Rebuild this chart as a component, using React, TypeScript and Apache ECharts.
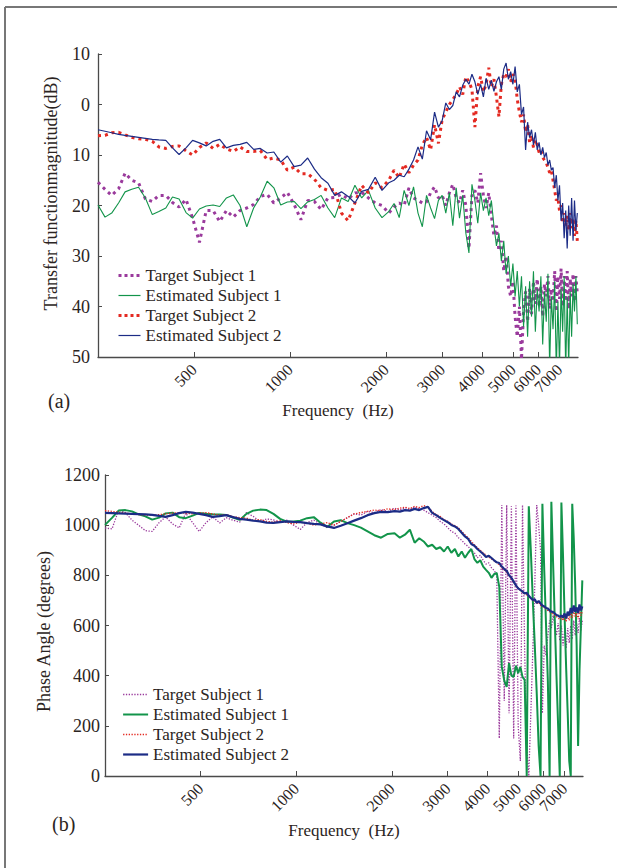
import React, { useEffect, useRef } from "react";
import * as echarts from "echarts";

// Frequency grid (Hz), shared by both panels
const freqHz = [
  250, 263, 276, 290, 304, 319, 335, 352, 370, 388, 408, 428, 449, 472, 495, 520, 546, 574, 602, 632,
  664, 697, 732, 769, 807, 848, 890, 935, 981, 1030, 1082, 1136, 1193, 1252, 1315, 1381, 1450, 1522, 1598, 1678,
  1762, 1850, 1943,
  2040, 2120, 2200, 2280, 2360, 2440, 2520, 2600, 2680, 2760, 2840, 2920, 3000, 3080, 3160, 3240, 3320, 3400, 3480,
  3560, 3640, 3720, 3800, 3880, 3960, 4040, 4120, 4200, 4280, 4360, 4440, 4520, 4600, 4680, 4760, 4840, 4920, 5000,
  5080, 5160, 5240, 5320, 5400, 5480, 5560, 5640, 5720, 5800, 5880, 5960, 6040, 6120, 6200, 6280, 6360, 6440, 6520,
  6600, 6680, 6760, 6840, 6920, 7000, 7080, 7160, 7240, 7320, 7400, 7480, 7560, 7640, 7720, 7800, 7880, 7960,
];

const xTickHz = [500, 1000, 2000, 3000, 4000, 5000, 6000, 7000];
// labels drawn on the main axis / on an overlay axis (so that crowded labels are not auto-hidden)
const xLabelHzMain = [500, 1000, 2000, 3000, 4000, 5000, 7000];
const xLabelHzExtra = [6000];
const seriesNames = ["Target Subject 1", "Estimated Subject 1", "Target Subject 2", "Estimated Subject 2"];

// (a) Transfer function magnitude (dB), axis drawn inverted
const magTarget1 = [
  15.4, 16.8, 18.0, 16.7, 13.6, 15.0, 15.5, 18.7, 19.2, 18.0,
  18.0, 19.4, 20.3, 18.8, 22.5, 27.3, 21.0, 21.0, 23.2, 21.0,
  22.3, 21.0, 20.5, 19.8, 18.2, 17.8, 19.5, 18.5, 17.4, 19.8,
  22.8, 19.0, 19.2, 20.8, 18.5, 18.4, 17.8, 18.7, 17.5, 17.4,
  18.5, 19.5, 20.0, 21.5, 20.3, 19.5, 20.0, 16.5, 18.5, 19.0,
  19.5, 19.3, 17.5, 16.3, 18.5, 18.0, 20.0, 17.5, 15.8, 18.5,
  19.5, 17.0, 20.0, 28.5, 18.0, 17.0, 19.5, 13.6, 18.0, 20.5,
  17.5, 22.0, 26.0, 24.0, 29.0, 27.0, 33.0, 30.0, 36.0, 38.0,
  35.0, 42.0, 46.0, 40.0, 50.5, 41.0, 37.0, 43.0, 36.5, 41.5,
  35.0, 39.5, 34.5, 40.0, 36.0, 42.0, 35.5, 38.0, 34.0, 40.5,
  36.5, 39.0, 33.0, 41.0, 34.0, 38.5, 32.5, 40.0, 34.0, 39.0,
  33.0, 40.5, 34.5, 38.0, 33.5, 39.0, 34.0, 37.5,
];
const magEstimated1 = [
  19.9, 22.3, 21.5, 19.5, 17.3, 16.8, 16.4, 18.5, 21.8, 21.2,
  20.5, 18.3, 18.7, 21.4, 22.5, 20.7, 20.1, 19.9, 20.2, 18.5,
  17.9, 20.0, 24.2, 20.5, 18.3, 15.2, 16.5, 19.9, 19.3, 19.2,
  20.6, 19.3, 18.8, 18.0, 20.5, 22.4, 18.5, 19.2, 16.0, 18.5,
  17.0, 20.5, 22.4, 21.2, 19.6, 22.4, 17.0, 20.0, 16.3, 21.5,
  24.2, 18.0, 20.5, 22.6, 19.0, 18.0, 21.5, 17.5, 24.0, 16.5,
  22.5, 18.0, 25.5, 29.4, 15.8, 19.0, 23.5, 17.5, 21.0, 18.5,
  22.0, 19.0, 24.0, 28.0, 25.5, 31.0, 27.0, 33.5, 30.0, 36.0,
  31.5, 38.0, 33.0, 40.0, 34.0, 44.0, 36.0, 46.0, 35.0, 42.0,
  33.0, 45.0, 36.5, 41.0, 34.0, 47.5, 37.0, 43.0, 33.5, 52.0,
  38.0, 44.5, 35.0, 53.0, 39.0, 52.0, 36.5, 45.0, 34.0, 53.0,
  38.0, 52.0, 37.0, 46.0, 35.5, 41.0, 34.0, 43.5,
];
const magTarget2 = [
  6.2, 6.1, 5.6, 5.5, 6.0, 6.5, 6.8, 6.9, 7.3, 8.4,
  8.7, 8.3, 8.2, 9.2, 10.0, 8.5, 7.6, 8.7, 7.9, 8.8,
  9.3, 8.4, 9.3, 9.3, 9.1, 10.9, 10.6, 11.0, 13.0, 12.4,
  13.7, 13.7, 14.8, 16.5, 17.0, 16.8, 21.5, 23.0, 19.5, 16.0,
  17.5, 15.5, 16.5, 15.0, 13.0, 14.5, 11.8, 13.5, 12.0, 11.0,
  8.0, 6.5, 9.0, 4.0, 7.7, 3.0, 1.5, 0.0, -1.0, -2.0,
  -3.5, -2.0, -5.5, -4.5, -3.0, 4.5, -3.5, -5.5, -2.5, -4.0,
  -7.3, -3.5, -5.0, -1.5, 2.4, -4.0, -6.0, -5.5, -7.0, -4.5,
  -6.0, -5.0, -1.0, 1.5, 3.5, 2.0, 5.5, 4.0, 7.5, 6.0,
  8.5, 7.0, 8.0, 9.5, 9.0, 10.5, 11.0, 11.5, 12.5, 13.5,
  13.0, 15.0, 17.0, 19.0, 18.5, 21.0, 20.0, 23.5, 21.5, 24.0,
  22.0, 25.0, 21.5, 24.5, 22.5, 26.0, 23.0, 27.0,
];
const magEstimated2 = [
  5.0, 5.3, 5.6, 5.9, 6.1, 6.3, 6.5, 6.7, 6.9, 7.0,
  7.1, 8.6, 9.9, 8.6, 7.1, 7.6, 8.2, 7.3, 6.9, 8.6,
  8.1, 7.9, 7.5, 8.9, 8.7, 9.6, 9.4, 11.4, 10.2, 12.3,
  12.0, 10.6, 12.8, 14.5, 15.6, 18.0, 17.3, 18.2, 19.5, 17.2,
  16.8, 14.4, 17.0, 15.5, 15.0, 14.0, 14.3, 12.8, 11.0, 8.4,
  10.8, 5.2, 7.0, 1.5, 4.5, 3.2, -0.3, 1.0, 0.2, -2.5,
  -1.5, -3.8, -5.0, -4.0, -6.0, -4.5, -2.0, -4.0, -1.5, -5.2,
  -3.0, -4.8, -2.6, -4.5, -5.5, -3.0, -7.0, -8.2, -5.0, -6.5,
  -4.0, -7.5, -2.5, -4.0, 2.0, 0.5, 9.0, 3.5, 6.5, 5.0,
  8.0, 5.5, 9.0, 7.5, 10.0, 8.5, 10.5, 9.5, 12.0, 11.0,
  13.0, 12.5, 16.5, 14.0, 19.0, 16.0, 23.0, 19.5, 26.5, 21.0,
  28.5, 20.0, 26.0, 18.5, 27.0, 19.0, 25.0, 21.5,
];

// (b) Phase angle (degrees)
const phaseTarget1 = [
  989, 985, 1060, 1050, 1020, 1000, 978, 975, 1010, 1033,
  1005, 989, 1048, 1010, 975, 1010, 1033, 1009, 1030, 1020,
  1012, 1050, 1035, 1015, 1025, 1021, 1010, 1020, 1000, 983,
  1010, 1020, 1005, 990, 1000, 1015, 1030, 1045, 1040, 1055,
  1050, 1062, 1055, 1068, 1060, 1070, 1062, 1072, 1066, 1060,
  1050, 1040, 1030, 1015, 1005, 990, 975, 968, 950, 940,
  925, 915, 900, 890, 870, 880, 860, 845, 850, 830,
  820, 800, 150, 1080, 300, 1080, 250, 1075, 150, 1078,
  200, 60, 1080, 500, 120, 0, 250, 500, 760, 1080,
  1000, 900, 250, 520, 480, 560, 620, 590, 640, 600,
  560, 610, 540, 600, 520, 580, 510, 590, 530, 600,
  545, 620, 560, 610, 570, 630, 580, 620,
];
const phaseEstimated1 = [
  1001, 1029, 1058, 1060, 1055, 1043, 1035, 1022, 1030, 1047,
  1050, 1032, 1028, 1038, 1049, 1046, 1044, 1043, 1041, 1030,
  1021, 1045, 1058, 1062, 1060, 1045, 1025, 1014, 1015, 1018,
  1028, 1032, 1010, 993, 1015, 1020, 1008, 1000, 990, 975,
  960, 950, 965, 968, 950, 962, 982, 930, 948, 935,
  915, 922, 905, 912, 895, 915, 890, 905, 875, 895,
  870, 890, 905, 865, 850, 860, 835, 822, 810, 790,
  805, 810, 754, 435, 380, 355, 450, 400, 395, 440,
  410, 435, 395, 383, 0, 1075, 900, 700, 520, 330,
  120, 0, 1085, 820, 600, 380, 0, 1093, 850, 620,
  400, 200, 0, 1090, 880, 640, 430, 250, 60, 0,
  1085, 950, 760, 520, 120, 420, 600, 780,
];
const phaseTarget2 = [
  1058, 1055, 1052, 1048, 1045, 1042, 1040, 1040, 1042, 1045,
  1048, 1050, 1048, 1045, 1048, 1050, 1045, 1040, 1042, 1035,
  1030, 1028, 1020, 1022, 1015, 1012, 1018, 1010, 1005, 1012,
  1008, 1000, 1005, 1010, 1000, 1015, 1030, 1045, 1050, 1055,
  1060, 1058, 1065, 1062, 1068, 1072, 1066, 1075, 1070, 1078,
  1072, 1055, 1042, 1035, 1022, 1015, 1005, 998, 990, 975,
  962, 950, 935, 922, 910, 900, 890, 880, 872, 865,
  858, 850, 842, 830, 822, 812, 798, 785, 772, 758,
  750, 740, 732, 726, 722, 715, 708, 700, 698, 688,
  692, 680, 676, 672, 665, 660, 655, 650, 645, 640,
  636, 630, 625, 632, 620, 640, 615, 645, 620, 655,
  630, 660, 635, 650, 625, 660, 640, 655,
];
const phaseEstimated2 = [
  1049, 1048, 1047, 1046, 1045, 1044, 1043, 1041, 1037, 1033,
  1040, 1048, 1053, 1050, 1045, 1040, 1033, 1036, 1040, 1032,
  1025, 1022, 1018, 1015, 1010, 1009, 1012, 1015, 1013, 1012,
  1008, 1005, 1003, 995, 989, 998, 1008, 1018, 1028, 1040,
  1048, 1053, 1052, 1056, 1054, 1060, 1058, 1065, 1060, 1068,
  1073, 1049, 1040, 1029, 1020, 1012, 1001, 995, 985, 970,
  955, 945, 925, 918, 905, 895, 885, 873, 878, 869,
  860, 852, 849, 835, 825, 818, 800, 790, 775, 760,
  748, 742, 735, 728, 730, 718, 710, 702, 705, 690,
  698, 688, 680, 676, 670, 668, 660, 655, 654, 648,
  642, 640, 634, 640, 632, 648, 628, 655, 640, 670,
  650, 680, 655, 672, 650, 684, 660, 676,
];

const FONT = "'Liberation Serif', 'Times New Roman', serif";
const TEXT = "#2b2422";
const AXIS = "#4a4a4a";
const PURPLE = "#9a3a9c";
const GREEN = "#12944a";
const RED = "#e42a22";
const NAVY = "#1c2c86";

const toPoints = (values: number[]) => freqHz.map((f, i) => [Math.log10(f), values[i]]);

export default function App() {
  const ref = useRef<HTMLDivElement>(null);

  useEffect(() => {
    const chart = echarts.init(ref.current as HTMLDivElement, null, { renderer: "svg" });
    const lg = (arr: number[]) => arr.map((v) => Math.log10(v));

    const labelStyle = {
      rotate: 45,
      margin: 10,
      hideOverlap: false,
      showMinLabel: true,
      showMaxLabel: true,
      fontFamily: FONT,
      fontSize: 16,
      color: TEXT,
      formatter: (v: number) => String(Math.round(Math.pow(10, v))),
    };

    const xAxis = (gridIndex: number, nameGap: number) => ({
      type: "value",
      gridIndex,
      min: Math.log10(250),
      max: Math.log10(8000),
      axisLine: { show: true, onZero: false, lineStyle: { color: AXIS, width: 1.3 } },
      axisTick: { show: true, inside: true, length: 5, customValues: lg(xTickHz), lineStyle: { color: AXIS } },
      axisLabel: { ...labelStyle, customValues: lg(xLabelHzMain) },
      splitLine: { show: false },
      name: "Frequency  (Hz)",
      nameLocation: "middle",
      nameGap,
      nameTextStyle: { fontFamily: FONT, fontSize: 17, color: TEXT },
    });

    const xAxisExtra = (gridIndex: number) => ({
      type: "value",
      gridIndex,
      position: "bottom",
      min: Math.log10(250),
      max: Math.log10(8000),
      axisLine: { show: false, onZero: false },
      axisTick: { show: false },
      axisLabel: { ...labelStyle, customValues: lg(xLabelHzExtra) },
      splitLine: { show: false },
    });

    const lineSeries = (
      name: string,
      idx: number,
      values: number[],
      color: string,
      width: number,
      type: any
    ) => ({
      type: "line",
      name,
      xAxisIndex: idx,
      yAxisIndex: idx,
      data: toPoints(values),
      symbol: "none",
      clip: true,
      lineStyle: { color, width, type, cap: "butt" },
      itemStyle: { color },
      emphasis: { disabled: true },
    });

    const legendText = { fontFamily: FONT, fontSize: 17, color: TEXT, lineHeight: 17 };
    const noSymbol = { opacity: 0, color: "rgba(0,0,0,0)", borderWidth: 0 };

    chart.setOption({
      animation: false,
      backgroundColor: "#ffffff",
      grid: [
        { left: 98, top: 54, width: 480, height: 303 },
        { left: 105, top: 475, width: 478, height: 301 },
      ],
      xAxis: [xAxis(0, 45), xAxis(1, 46), xAxisExtra(0), xAxisExtra(1)],
      yAxis: [
        {
          type: "value",
          gridIndex: 0,
          min: -10,
          max: 50,
          interval: 10,
          inverse: true,
          axisLine: { show: true, onZero: false, lineStyle: { color: AXIS, width: 1.3 } },
          axisTick: { show: true, inside: true, length: 4, lineStyle: { color: AXIS } },
          axisLabel: {
            fontFamily: FONT,
            fontSize: 18,
            color: TEXT,
            margin: 8,
            formatter: (v: number) => String(Math.abs(v)),
          },
          splitLine: { show: false },
          name: "Transfer functionmagnitude(dB)",
          nameLocation: "middle",
          nameGap: 38,
          nameTextStyle: { fontFamily: FONT, fontSize: 18, color: TEXT, padding: [0, 0, 0, 24] },
        },
        {
          type: "value",
          gridIndex: 1,
          min: 0,
          max: 1200,
          interval: 200,
          axisLine: { show: true, onZero: false, lineStyle: { color: AXIS, width: 1.3 } },
          axisTick: { show: true, inside: true, length: 4, lineStyle: { color: AXIS } },
          axisLabel: {
            fontFamily: FONT,
            fontSize: 18,
            color: TEXT,
            margin: 5,
            formatter: (v: number) => String(v),
          },
          splitLine: { show: false },
          name: "Phase Angle (degrees)",
          nameLocation: "middle",
          nameGap: 42,
          nameTextStyle: { fontFamily: FONT, fontSize: 18, color: TEXT, padding: [0, 12, 0, 0] },
        },
      ],
      legend: [
        {
          left: 117,
          top: 267,
          padding: 0,
          orient: "vertical",
          itemWidth: 22,
          itemHeight: 10,
          itemGap: 3,
          selectedMode: false,
          textStyle: legendText,
          data: [
            { name: seriesNames[0], itemStyle: noSymbol, lineStyle: { color: PURPLE, width: 3, type: [3, 3] } },
            { name: seriesNames[1], itemStyle: noSymbol, lineStyle: { color: GREEN, width: 1.2, type: "solid" } },
            { name: seriesNames[2], itemStyle: noSymbol, lineStyle: { color: RED, width: 3, type: [3, 3] } },
            { name: seriesNames[3], itemStyle: noSymbol, lineStyle: { color: NAVY, width: 1.2, type: "solid" } },
          ],
        },
        {
          left: 122,
          top: 686,
          padding: 0,
          orient: "vertical",
          itemWidth: 25,
          itemHeight: 10,
          itemGap: 3,
          selectedMode: false,
          textStyle: legendText,
          data: [
            { name: seriesNames[0], itemStyle: noSymbol, lineStyle: { color: PURPLE, width: 1.3, type: [1.3, 1.5] } },
            { name: seriesNames[1], itemStyle: noSymbol, lineStyle: { color: GREEN, width: 2, type: "solid" } },
            { name: seriesNames[2], itemStyle: noSymbol, lineStyle: { color: RED, width: 1.3, type: [1.3, 1.5] } },
            { name: seriesNames[3], itemStyle: noSymbol, lineStyle: { color: NAVY, width: 2.2, type: "solid" } },
          ],
        },
      ],
      series: [
        lineSeries(seriesNames[0], 0, magTarget1, PURPLE, 3, [3, 4]),
        lineSeries(seriesNames[1], 0, magEstimated1, GREEN, 1.1, "solid"),
        lineSeries(seriesNames[2], 0, magTarget2, RED, 3, [3, 4]),
        lineSeries(seriesNames[3], 0, magEstimated2, NAVY, 1.2, "solid"),
        lineSeries(seriesNames[0], 1, phaseTarget1, PURPLE, 1.3, [1.3, 1.5]),
        lineSeries(seriesNames[1], 1, phaseEstimated1, GREEN, 2, "solid"),
        lineSeries(seriesNames[2], 1, phaseTarget2, RED, 1.3, [1.3, 1.5]),
        lineSeries(seriesNames[3], 1, phaseEstimated2, NAVY, 2.2, "solid"),
      ],
      graphic: [
        { type: "line", shape: { x1: 5, y1: 7, x2: 617, y2: 7 }, style: { stroke: "#777777", lineWidth: 2 } },
        { type: "line", shape: { x1: 5, y1: 7, x2: 5, y2: 868 }, style: { stroke: "#777777", lineWidth: 2 } },
        {
          type: "text",
          left: 48,
          top: 391,
          style: { text: "(a)", font: `20px ${FONT}`, fill: TEXT },
        },
        {
          type: "text",
          left: 52,
          top: 814,
          style: { text: "(b)", font: `20px ${FONT}`, fill: TEXT },
        },
      ],
    });

    return () => chart.dispose();
  }, []);

  return (
    <div
      ref={ref}
      style={{ position: "fixed", left: 0, top: 0, width: 617, height: 868, background: "#fff" }}
    />
  );
}
